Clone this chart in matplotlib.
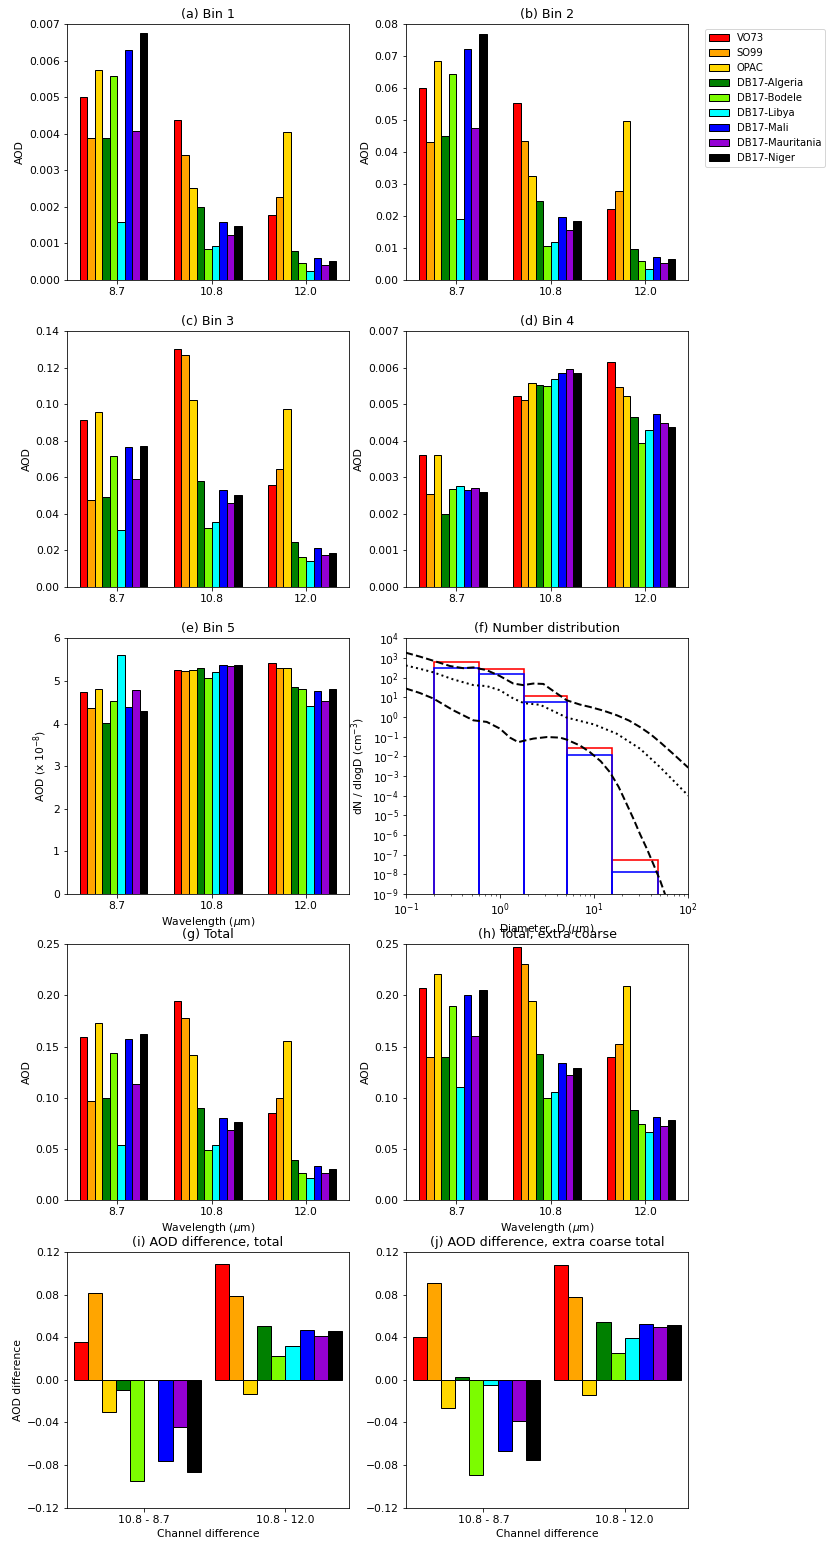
import numpy as np
import matplotlib
matplotlib.use("Agg")
import matplotlib.pyplot as plt

plt.rcParams['xtick.labelsize'] = 10.8
plt.rcParams['ytick.labelsize'] = 10.8
plt.rcParams['axes.labelsize'] = 10.8
plt.rcParams['axes.titlesize'] = 12.6
plt.rcParams['legend.fontsize'] = 10

# ---------------- data ----------------
series = ['VO73', 'SO99', 'OPAC', 'DB17-Algeria', 'DB17-Bodele', 'DB17-Libya',
          'DB17-Mali', 'DB17-Mauritania', 'DB17-Niger']
colors = ['red', 'orange', 'gold', 'green', 'lawngreen', 'cyan', 'blue',
          'darkviolet', 'black']
wavelengths = ['8.7', '10.8', '12.0']
channel_diffs = ['10.8 - 8.7', '10.8 - 12.0']

# rows: wavelength (8.7, 10.8, 12.0); columns: series
bin1 = [[0.00501, 0.00388, 0.00574, 0.00390, 0.00559, 0.00159, 0.00629, 0.00407, 0.00676],
        [0.00438, 0.00342, 0.00253, 0.00199, 0.00085, 0.00093, 0.00158, 0.00122, 0.00148],
        [0.00178, 0.00227, 0.00406, 0.00080, 0.00047, 0.00024, 0.00059, 0.00041, 0.00052]]
bin2 = [[0.0602, 0.0431, 0.0686, 0.0449, 0.0646, 0.0191, 0.0723, 0.0477, 0.0769],
        [0.0554, 0.0434, 0.0325, 0.0246, 0.0106, 0.0118, 0.0198, 0.0156, 0.0185],
        [0.0221, 0.0280, 0.0497, 0.0098, 0.0059, 0.0034, 0.0073, 0.0053, 0.0065]]
bin3 = [[0.0910, 0.0472, 0.0958, 0.0490, 0.0716, 0.0310, 0.0763, 0.0589, 0.0771],
        [0.1303, 0.1266, 0.1022, 0.0580, 0.0319, 0.0352, 0.0530, 0.0459, 0.0503],
        [0.0558, 0.0642, 0.0972, 0.0244, 0.0165, 0.0139, 0.0211, 0.0172, 0.0187]]
bin4 = [[0.00360, 0.00253, 0.00360, 0.00199, 0.00267, 0.00275, 0.00265, 0.00269, 0.00258],
        [0.00522, 0.00511, 0.00558, 0.00553, 0.00549, 0.00569, 0.00586, 0.00597, 0.00586],
        [0.00616, 0.00546, 0.00521, 0.00465, 0.00393, 0.00430, 0.00473, 0.00449, 0.00438]]
bin5 = [[4.75, 4.36, 4.80, 4.02, 4.53, 5.60, 4.38, 4.78, 4.29],
        [5.25, 5.24, 5.25, 5.30, 5.08, 5.21, 5.37, 5.34, 5.37],
        [5.43, 5.31, 5.30, 4.86, 4.80, 4.41, 4.77, 4.54, 4.80]]
total = [[0.1595, 0.0964, 0.1729, 0.0993, 0.1441, 0.0539, 0.1572, 0.1131, 0.1627],
         [0.1948, 0.1781, 0.1422, 0.0895, 0.0487, 0.0533, 0.0797, 0.0680, 0.0758],
         [0.0853, 0.1000, 0.1556, 0.0392, 0.0261, 0.0219, 0.0330, 0.0268, 0.0301]]
total_xc = [[0.2069, 0.1399, 0.2212, 0.1399, 0.1892, 0.1101, 0.2007, 0.1605, 0.2056],
            [0.2474, 0.2304, 0.1948, 0.1425, 0.0993, 0.1052, 0.1337, 0.1219, 0.1294],
            [0.1399, 0.1529, 0.2088, 0.0876, 0.0745, 0.0660, 0.0807, 0.0722, 0.0778]]
diff_total = [[0.0356, 0.0816, -0.0306, -0.0091, -0.0947, -0.0006, -0.0766, -0.0438, -0.0866],
              [0.1091, 0.0784, -0.0131, 0.0506, 0.0222, 0.0319, 0.0469, 0.0416, 0.0463]]
diff_xc = [[0.0406, 0.0906, -0.0263, 0.0028, -0.0891, -0.0044, -0.0669, -0.0384, -0.0756],
           [0.1075, 0.0775, -0.0138, 0.0547, 0.0250, 0.0397, 0.0525, 0.0494, 0.0519]]

# panel (f): size bins and number distributions
bin_edges = [0.2, 0.6, 1.8, 5.15, 15.6, 47.6]
dist_red = [617, 263, 11.5, 0.0275, 5.2e-8]
dist_blue = [302, 145, 5.9, 0.0112, 1.37e-8]

upper_logD = [-1.0, -0.85, -0.707, -0.53, -0.388, -0.282, -0.14, 0.0, 0.142, 0.248, 0.355,
              0.461, 0.567, 0.709, 0.85, 0.956, 1.1, 1.24, 1.37, 1.487, 1.6, 1.70, 1.85, 2.0]
upper_logN = [3.27, 3.07, 2.86, 2.59, 2.48, 2.52, 2.38, 2.08, 1.70, 1.62, 1.70,
              1.68, 1.32, 0.85, 0.63, 0.51, 0.32, 0.09, -0.18, -0.51, -0.88, -1.28, -1.92, -2.58]
mid_logD = [-1.0, -0.85, -0.707, -0.495, -0.282, -0.14, 0.0, 0.142, 0.256, 0.426, 0.567,
            0.709, 0.85, 1.0, 1.24, 1.487, 1.70, 2.0]
mid_logN = [2.62, 2.45, 2.27, 1.91, 1.62, 1.57, 1.36, 0.94, 0.70, 0.62, 0.30,
            -0.03, -0.20, -0.38, -0.85, -1.61, -2.55, -4.0]
lower_logD = [-1.0, -0.85, -0.707, -0.495, -0.282, -0.14, 0.0, 0.107, 0.195, 0.28, 0.355,
              0.5, 0.638, 0.709, 0.85, 0.956, 1.07, 1.168, 1.26, 1.345, 1.42, 1.487, 1.56,
              1.629, 1.70, 1.752, 1.80]
lower_logN = [1.45, 1.22, 0.94, 0.34, -0.17, -0.25, -0.59, -1.05, -1.28, -1.18, -1.10,
              -1.02, -1.05, -1.15, -1.45, -1.79, -2.25, -2.81, -3.55, -4.42, -5.2, -5.95, -6.7,
              -7.48, -8.3, -9.0, -9.7]

# ---------------- figure ----------------
W, H = 826, 1543
fig = plt.figure(figsize=(W / 72, H / 72), dpi=72)

lefts = [66.7, 405.7]
widths = [282.3, 282.6]
bottoms_px = [280.0, 586.7, 894.0, 1200.0, 1507.7]
h_px = 255.7


def make_ax(row, col):
    return fig.add_axes([lefts[col] / W, 1 - bottoms_px[row] / H,
                         widths[col] / W, h_px / H])


def bar_panel(ax, data, title, ylim, yticks, w=0.08, labels=wavelengths, do_label=False):
    x = np.arange(len(labels))
    for i in range(len(series)):
        vals = [row[i] for row in data]
        ax.bar(x + (i - 4.5) * w, vals, w, color=colors[i], edgecolor='k',
               linewidth=1, label=series[i] if do_label else None)
    ax.set_xticks(x)
    ax.set_xticklabels(labels)
    ax.set_ylim(*ylim)
    ax.set_yticks(yticks)
    ax.set_title(title)


ax = make_ax(0, 0)
bar_panel(ax, bin1, '(a) Bin 1', (0, 0.007), np.arange(0, 0.0071, 0.001))
ax.set_yticklabels(['%.3f' % v for v in np.arange(0, 0.0071, 0.001)])
ax.set_ylabel('AOD')

ax = make_ax(0, 1)
bar_panel(ax, bin2, '(b) Bin 2', (0, 0.08), np.arange(0, 0.081, 0.01), do_label=True)
ax.set_yticklabels(['%.2f' % v for v in np.arange(0, 0.081, 0.01)])
ax.set_ylabel('AOD')
ax.legend(loc='upper left', bbox_to_anchor=(1.04, 1.0))

ax = make_ax(1, 0)
bar_panel(ax, bin3, '(c) Bin 3', (0, 0.14), np.arange(0, 0.141, 0.02))
ax.set_yticklabels(['%.2f' % v for v in np.arange(0, 0.141, 0.02)])
ax.set_ylabel('AOD')

ax = make_ax(1, 1)
bar_panel(ax, bin4, '(d) Bin 4', (0, 0.007), np.arange(0, 0.0071, 0.001))
ax.set_yticklabels(['%.3f' % v for v in np.arange(0, 0.0071, 0.001)])
ax.set_ylabel('AOD')

ax = make_ax(2, 0)
bar_panel(ax, bin5, '(e) Bin 5', (0, 6), np.arange(0, 7, 1))
ax.set_ylabel('AOD (x 10$^{-8}$)')
ax.set_xlabel('Wavelength ($\\mu$m)')

# (f) number distribution
ax = make_ax(2, 1)
ax.set_xscale('log')
ax.set_yscale('log')
edges = np.array(bin_edges)
ax.bar(edges[:-1], dist_red, width=np.diff(edges), align='edge', bottom=1e-14,
       fill=False, edgecolor='red', linewidth=1.6)
ax.bar(edges[:-1], dist_blue, width=np.diff(edges), align='edge', bottom=1e-14,
       fill=False, edgecolor='blue', linewidth=1.6)
ax.plot(10 ** np.array(upper_logD), 10 ** np.array(upper_logN), 'k--', lw=2)
ax.plot(10 ** np.array(mid_logD), 10 ** np.array(mid_logN), 'k:', lw=2)
ax.plot(10 ** np.array(lower_logD), 10 ** np.array(lower_logN), 'k--', lw=2)
ax.set_xlim(0.1, 100)
ax.set_ylim(1e-9, 1e4)
ax.set_yticks(10.0 ** np.arange(-9, 5))
ax.yaxis.set_minor_locator(matplotlib.ticker.NullLocator())
ax.set_title('(f) Number distribution')
ax.set_xlabel('Diameter, D ($\\mu$m)')
ax.set_ylabel('dN / dlogD (cm$^{-3}$)')

ax = make_ax(3, 0)
bar_panel(ax, total, '(g) Total', (0, 0.25), np.arange(0, 0.251, 0.05))
ax.set_yticklabels(['%.2f' % v for v in np.arange(0, 0.251, 0.05)])
ax.set_ylabel('AOD')
ax.set_xlabel('Wavelength ($\\mu$m)')

ax = make_ax(3, 1)
bar_panel(ax, total_xc, '(h) Total, extra coarse', (0, 0.25), np.arange(0, 0.251, 0.05))
ax.set_yticklabels(['%.2f' % v for v in np.arange(0, 0.251, 0.05)])
ax.set_ylabel('AOD')
ax.set_xlabel('Wavelength ($\\mu$m)')

dticks = np.arange(-0.12, 0.121, 0.04)
dlabels = ['\u22120.12', '\u22120.08', '\u22120.04', '0.00', '0.04', '0.08', '0.12']

ax = make_ax(4, 0)
bar_panel(ax, diff_total, '(i) AOD difference, total', (-0.12, 0.12), dticks,
          w=0.1, labels=channel_diffs)
ax.set_yticklabels(dlabels)
ax.set_xlim(-0.55, 1.45)
ax.set_ylabel('AOD difference')
ax.set_xlabel('Channel difference')

ax = make_ax(4, 1)
bar_panel(ax, diff_xc, '(j) AOD difference, extra coarse total', (-0.12, 0.12), dticks,
          w=0.1, labels=channel_diffs)
ax.set_yticklabels(dlabels)
ax.set_xlim(-0.55, 1.45)
ax.set_xlabel('Channel difference')

fig.savefig('out.png', dpi=72)
